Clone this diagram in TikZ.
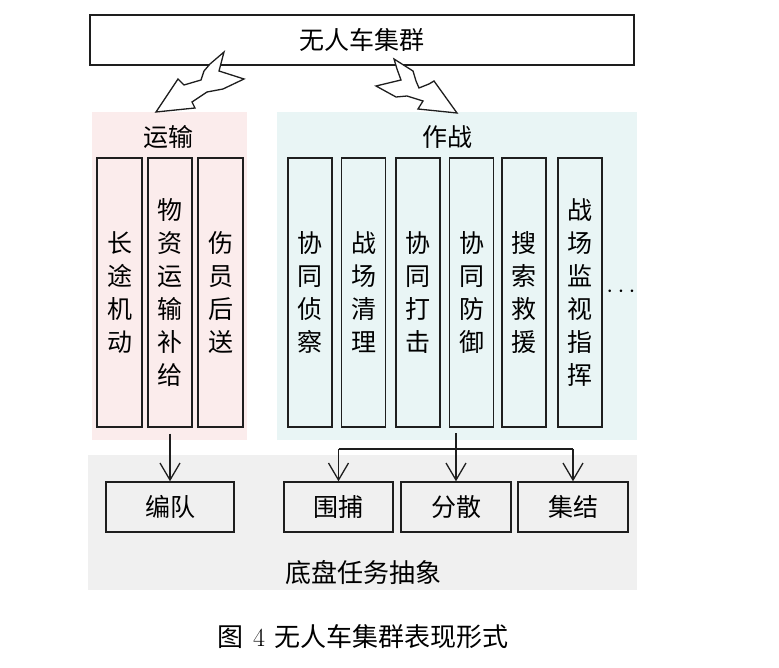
\documentclass[tikz,border=0pt]{standalone}
\usepackage{fontspec}
\newfontfamily\cjk{Noto Sans CJK SC}
\usetikzlibrary{arrows.meta}
\definecolor{pinkbg}{RGB}{251,236,236}
\definecolor{cyanbg}{RGB}{233,245,245}
\definecolor{graybg}{RGB}{240,240,240}
\definecolor{ln}{RGB}{30,30,30}
\begin{document}
\begin{tikzpicture}[x=1pt,y=-1pt,
  box/.style={draw=ln, line width=1.4pt, inner sep=0pt, font=\cjk\fontsize{25}{33}\selectfont},
  vbox/.style={box, minimum width=44pt, minimum height=269pt, align=center},
  hbox/.style={box, minimum height=50pt},
  lbl/.style={inner sep=0pt, font=\cjk\fontsize{25}{30}\selectfont},
  arr/.style={draw=ln, line width=1.3pt, -{Straight Barb[length=17pt,width=20pt,line width=1.3pt]}},
  plain/.style={draw=ln, line width=1.3pt},
  bolt/.style={draw=ln, fill=white, line width=1.3pt, line join=miter}]
\useasboundingbox (0,0) rectangle (779,668);
% backgrounds
\fill[pinkbg] (92,112) rectangle (247,440);
\fill[cyanbg] (277,112) rectangle (637,440);
\fill[graybg] (88,455) rectangle (637,590);
% top box
\node[hbox, minimum width=544pt] (top) at (362,40) {无人车集群};
% bolts
\draw[bolt] (224,52) -- (219,71) -- (244,79) -- (223,89) -- (207,92) -- (192,102) -- (195,108)
  -- (156,112) -- (178,79) -- (184,85) -- (201,80) -- (204,71) -- (210,64) -- cycle;
\draw[bolt] (394,59) -- (413,71) -- (416,81) -- (419,88) -- (429,84) -- (434,81) -- (457,113)
  -- (418,109) -- (423,101) -- (407,96) -- (396,97) -- (376,86) -- (401,80) -- (397,69) -- cycle;
% group labels
\node[lbl] (ys) at (168,137) {运输};
\node[lbl] (zz) at (447,137) {作战};
% transport boxes
\node[vbox, minimum width=45pt] (L1) at (119.5,292.5) {长\\途\\机\\动};
\node[vbox] (L2) at (170,292.5) {物\\资\\运\\输\\补\\给};
\node[vbox, minimum width=45pt] (L3) at (220.5,292.5) {伤\\员\\后\\送};
% combat boxes
\node[vbox] (R1) at (310,292.5) {协\\同\\侦\\察};
\node[vbox] (R2) at (363.5,292.5) {战\\场\\清\\理};
\node[vbox] (R3) at (418,292.5) {协\\同\\打\\击};
\node[vbox] (R4) at (471.5,292.5) {协\\同\\防\\御};
\node[vbox] (R5) at (524,292.5) {搜\\索\\救\\援};
\node[vbox] (R6) at (580,292.5) {战\\场\\监\\视\\指\\挥};
\node[inner sep=0pt, font=\fontsize{26}{26}\selectfont] (dots) at (621,292) {$\cdots$};
% bottom boxes
\node[hbox, minimum width=128pt] (bd) at (170,507) {编队};
\node[hbox, minimum width=109pt] (wb) at (338.5,507) {围捕};
\node[hbox, minimum width=110pt] (fs) at (456,507) {分散};
\node[hbox, minimum width=110pt] (jj) at (573,507) {集结};
% connectors
\draw[arr] ([yshift=-6pt]L2.south) -- (bd.north);
\coordinate (src) at (456,433);
\coordinate (bar) at (456,449);
\draw[arr] (src) -- (fs.north);
\draw[plain] (wb.north |- bar) -- (jj.north |- bar);
\draw[arr] (wb.north |- bar) -- (wb.north);
\draw[arr] (jj.north |- bar) -- (jj.north);
% bottom label and caption
\node[lbl, font=\cjk\fontsize{26}{30}\selectfont] (dp) at (363,573) {底盘任务抽象};
\node[lbl, font=\cjk\fontsize{26}{30}\selectfont] (cap) at (363,637) {图\hspace{10pt}{\fontsize{26}{30}\rmfamily 4}\hspace{10pt}无人车集群表现形式};
\end{tikzpicture}
\end{document}
